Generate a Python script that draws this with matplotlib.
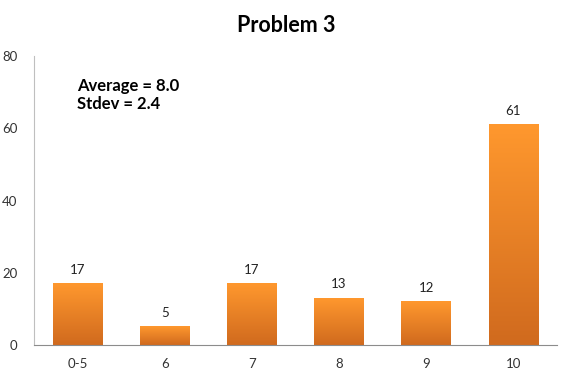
import matplotlib.pyplot as plt
import numpy as np
from matplotlib.colors import LinearSegmentedColormap

categories = ["0-5", "6", "7", "8", "9", "10"]
counts = [17, 5, 17, 13, 12, 61]

plt.rcParams["font.family"] = ["Lato", "DejaVu Sans"]

fig = plt.figure(figsize=(5.72, 3.79), dpi=100)
ax = fig.add_axes([0.0594, 0.0897, 0.9144, 0.7623])

x = np.arange(len(categories))
bars = ax.bar(x, counts, width=0.57, color="none", edgecolor="none", zorder=2)

cmap = LinearSegmentedColormap.from_list("orange", ["#D06A1E", "#FF982E"])
grad = np.linspace(0, 1, 256).reshape(-1, 1)
for b, c in zip(bars, counts):
    x0, y0, w, h = b.get_x(), b.get_y(), b.get_width(), b.get_height()
    ax.imshow(grad, cmap=cmap, origin="lower", aspect="auto",
              extent=[x0, x0 + w, y0, y0 + h], zorder=2)
    ax.text(x0 + w / 2, h + 2.2, str(c),
            ha="center", va="bottom", fontsize=9.5, color="#222222")

ax.set_xlim(-0.5, len(categories) - 0.5)
ax.set_ylim(0, 80)
ax.set_yticks([0, 20, 40, 60, 80])
ax.set_xticks(x)
ax.set_xticklabels(categories)
ax.tick_params(axis="both", length=0, labelsize=9.5, colors="#333333")
ax.tick_params(axis="x", pad=9)
ax.tick_params(axis="y", pad=12)

for s in ["top", "right"]:
    ax.spines[s].set_visible(False)
ax.spines["left"].set_color("#BFBFBF")
ax.spines["bottom"].set_color("#8C8C8C")

fig.text(0.5, 0.932, "Problem 3", ha="center", va="center",
         fontsize=15.5, fontweight="bold")
ax.text(0.082, 0.898, "Average = 8.0", transform=ax.transAxes,
        fontsize=12, fontweight="bold", va="center")
ax.text(0.082, 0.835, "Stdev = 2.4", transform=ax.transAxes,
        fontsize=12, fontweight="bold", va="center")

fig.savefig("out.png", dpi=100)
